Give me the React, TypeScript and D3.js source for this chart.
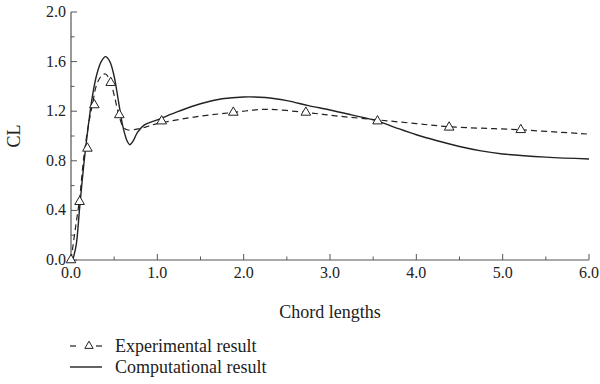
import { useEffect, useRef } from 'react'
import * as d3 from 'd3'

// Experimental result (dashed curve + triangle markers)
const expCurve: [number, number][] = [
  [0, 0], [0.05, 0.25], [0.1, 0.5], [0.15, 0.84], [0.2, 1.08], [0.25, 1.26], [0.3, 1.42],
  [0.36, 1.49], [0.4, 1.5], [0.45, 1.45], [0.5, 1.33], [0.55, 1.18], [0.6, 1.08], [0.65, 1.05],
  [0.8, 1.06], [1.0, 1.1], [1.5, 1.16], [1.88, 1.19], [2.25, 1.215], [2.72, 1.19], [3.1, 1.16],
  [3.55, 1.13], [4.0, 1.1], [4.38, 1.075], [5.2, 1.05], [6.0, 1.015],
]
const expMarkers: [number, number][] = [
  [0.0, 0.0], [0.1, 0.47], [0.19, 0.9], [0.27, 1.25], [0.46, 1.43], [0.56, 1.17],
  [1.05, 1.12], [1.88, 1.19], [2.72, 1.19], [3.55, 1.12], [4.38, 1.07], [5.21, 1.05],
]
// Computational result (solid curve)
const compCurve: [number, number][] = [
  [0.02, 0], [0.06, 0.12], [0.1, 0.42], [0.15, 0.78], [0.2, 1.08], [0.25, 1.33], [0.3, 1.5],
  [0.35, 1.6], [0.4, 1.64], [0.45, 1.6], [0.5, 1.48], [0.55, 1.28], [0.6, 1.08], [0.65, 0.96],
  [0.68, 0.93], [0.72, 0.96], [0.77, 1.03], [0.85, 1.09], [1.0, 1.13], [1.25, 1.2], [1.5, 1.26],
  [1.75, 1.3], [2.0, 1.315], [2.25, 1.31], [2.5, 1.285], [2.75, 1.245], [3.0, 1.21], [3.25, 1.17],
  [3.55, 1.12], [3.75, 1.07], [4.0, 1.01], [4.25, 0.96], [4.5, 0.915], [4.75, 0.88], [5.0, 0.855],
  [5.5, 0.83], [6.0, 0.815],
]
const xTicks = [0, 1, 2, 3, 4, 5, 6]
const xMinor = [0.5, 1.5, 2.5, 3.5, 4.5, 5.5]
const yTicks = [0, 0.4, 0.8, 1.2, 1.6, 2.0]
const yMinor = [0.2, 0.6, 1.0, 1.4, 1.8]
const legendLabels = ['Experimental result', 'Computational result']

const FONT = '"Liberation Serif", "DejaVu Serif", serif'

export default function App() {
  const ref = useRef<SVGSVGElement>(null)

  useEffect(() => {
    if (!ref.current) return
    const svg = d3.select(ref.current)
    svg.selectAll('*').remove()

    const x = d3.scaleLinear().domain([0, 6]).range([71, 589])
    const y = d3.scaleLinear().domain([0, 2]).range([260, 12])
    const color = '#222'

    // axes
    svg.append('line').attr('x1', x(0)).attr('x2', x(6)).attr('y1', y(0)).attr('y2', y(0))
      .attr('stroke', '#555').attr('stroke-width', 1.2)
    svg.append('line').attr('x1', x(0)).attr('x2', x(0)).attr('y1', y(0)).attr('y2', y(2))
      .attr('stroke', '#555').attr('stroke-width', 1.2)

    svg.selectAll('.xt').data(xTicks).enter().append('line')
      .attr('x1', d => x(d)).attr('x2', d => x(d)).attr('y1', y(0)).attr('y2', y(0) - 6)
      .attr('stroke', '#555').attr('stroke-width', 1)
    svg.selectAll('.xm').data(xMinor).enter().append('line')
      .attr('x1', d => x(d)).attr('x2', d => x(d)).attr('y1', y(0)).attr('y2', y(0) - 3.5)
      .attr('stroke', '#555').attr('stroke-width', 1)
    svg.selectAll('.yt').data(yTicks).enter().append('line')
      .attr('x1', x(0)).attr('x2', x(0) + 6).attr('y1', d => y(d)).attr('y2', d => y(d))
      .attr('stroke', '#555').attr('stroke-width', 1)
    svg.selectAll('.ym').data(yMinor).enter().append('line')
      .attr('x1', x(0)).attr('x2', x(0) + 3.5).attr('y1', d => y(d)).attr('y2', d => y(d))
      .attr('stroke', '#555').attr('stroke-width', 1)

    svg.selectAll('.xl').data(xTicks).enter().append('text')
      .attr('x', d => x(d)).attr('y', y(0) + 18)
      .attr('text-anchor', 'middle').attr('font-family', FONT).attr('font-size', 16)
      .attr('fill', color).text(d => d.toFixed(1))
    svg.selectAll('.yl').data(yTicks).enter().append('text')
      .attr('x', x(0) - 5).attr('y', d => y(d) + 5)
      .attr('text-anchor', 'end').attr('font-family', FONT).attr('font-size', 16)
      .attr('fill', color).text(d => d.toFixed(1))

    svg.append('text').attr('x', 330).attr('y', 318).attr('text-anchor', 'middle')
      .attr('font-family', FONT).attr('font-size', 18).attr('fill', color).text('Chord lengths')
    svg.append('text').attr('transform', 'translate(20,136) rotate(-90)').attr('text-anchor', 'middle')
      .attr('font-family', FONT).attr('font-size', 18).attr('fill', color).text('CL')

    const line = d3.line<[number, number]>().x(d => x(d[0])).y(d => y(d[1])).curve(d3.curveCatmullRom)

    svg.append('path').datum(expCurve).attr('d', line).attr('fill', 'none')
      .attr('stroke', color).attr('stroke-width', 1.2).attr('stroke-dasharray', '6,4')
    svg.append('path').datum(compCurve).attr('d', line).attr('fill', 'none')
      .attr('stroke', color).attr('stroke-width', 1.4)

    const tri = d3.symbol().type(d3.symbolTriangle).size(40)
    svg.selectAll('.mk').data(expMarkers).enter().append('path')
      .attr('d', tri).attr('transform', d => `translate(${x(d[0])},${y(d[1])})`)
      .attr('fill', 'white').attr('stroke', color).attr('stroke-width', 1)

    // legend
    const ly = [346, 367]
    svg.append('line').attr('x1', 70).attr('x2', 76).attr('y1', ly[0]).attr('y2', ly[0])
      .attr('stroke', color).attr('stroke-width', 1.2)
    svg.append('line').attr('x1', 96).attr('x2', 102).attr('y1', ly[0]).attr('y2', ly[0])
      .attr('stroke', color).attr('stroke-width', 1.2)
    svg.append('path').attr('d', d3.symbol().type(d3.symbolTriangle).size(30))
      .attr('transform', `translate(89,${ly[0]})`).attr('fill', 'white').attr('stroke', color)
    svg.append('line').attr('x1', 70).attr('x2', 102).attr('y1', ly[1]).attr('y2', ly[1])
      .attr('stroke', color).attr('stroke-width', 1.4)
    svg.selectAll('.lg').data(legendLabels).enter().append('text')
      .attr('x', 115).attr('y', (_, i) => ly[i] + 6)
      .attr('font-family', FONT).attr('font-size', 18).attr('fill', color).text(d => d)
  }, [])

  return (
    <svg ref={ref} width={600} height={384}
      style={{ position: 'absolute', left: 0, top: 0, background: 'white' }} />
  )
}
